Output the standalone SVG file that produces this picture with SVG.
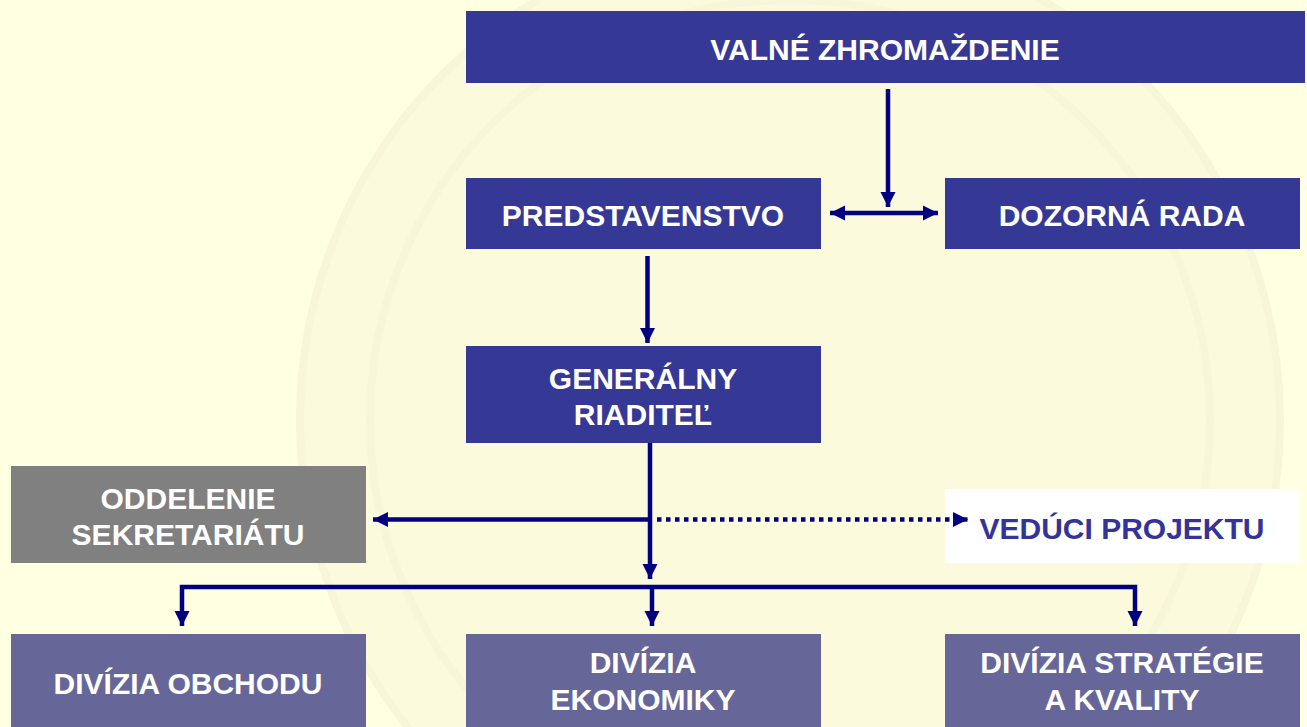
<svg xmlns="http://www.w3.org/2000/svg" width="1307" height="727" viewBox="0 0 1307 727">
<style>
.dk{fill:#363896}
.gr{fill:#808080}
.dv{fill:#666699}
.wh{fill:#ffffff}
text{font-family:"Liberation Sans",Arial,sans-serif;font-weight:bold;font-size:30px;text-anchor:middle;fill:#ffffff}
.bl{fill:#333399}
.ln{stroke:#000080;stroke-width:4.5;fill:none}
.dot{stroke:#000080;stroke-width:4.5;fill:none;stroke-dasharray:4.5 4.5}
</style>
<defs>
<marker id="ah" viewBox="0 0 10 10" refX="10" refY="5" markerWidth="3.4" markerHeight="3.4" orient="auto-start-reverse" markerUnits="strokeWidth">
<path d="M0,0 L10,5 L0,10 z" fill="#000080"/>
</marker>
</defs>
<rect x="0" y="0" width="1307" height="727" fill="#FFFFE2"/>
<g id="watermark" fill="none" stroke="#F8F6D9" stroke-width="8">
<circle cx="790" cy="420" r="490" fill="#FBFADD"/>
<circle cx="790" cy="420" r="420"/>
</g>
<g id="valne"><rect class="dk" x="466" y="11" width="839" height="72"/><text x="885" y="60">VALNÉ ZHROMAŽDENIE</text></g>
<g id="predstavenstvo"><rect class="dk" x="466" y="178" width="355" height="71"/><text x="643" y="226">PREDSTAVENSTVO</text></g>
<g id="dozorna"><rect class="dk" x="945" y="178" width="355" height="71"/><text x="1122" y="226">DOZORNÁ RADA</text></g>
<g id="generalny"><rect class="dk" x="466" y="346" width="355" height="97"/><text x="643" y="389">GENERÁLNY</text><text x="643" y="425">RIADITEĽ</text></g>
<g id="oddelenie"><rect class="gr" x="11" y="466" width="355" height="97"/><text x="188" y="509">ODDELENIE</text><text x="188" y="545">SEKRETARIÁTU</text></g>
<g id="veduci"><rect class="wh" x="945" y="489" width="355" height="74"/><text class="bl" x="1122" y="539">VEDÚCI PROJEKTU</text></g>
<g id="obchod"><rect class="dv" x="11" y="634" width="355" height="93"/><text x="188" y="694">DIVÍZIA OBCHODU</text></g>
<g id="ekonomika"><rect class="dv" x="466" y="634" width="355" height="93"/><text x="643" y="673">DIVÍZIA</text><text x="643" y="710">EKONOMIKY</text></g>
<g id="strategia"><rect class="dv" x="945" y="634" width="355" height="93"/><text x="1122" y="673">DIVÍZIA STRATÉGIE</text><text x="1122" y="710">A KVALITY</text></g>
<g id="connectors">
<path class="ln" d="M888,89 V207" marker-end="url(#ah)"/>
<path class="ln" d="M830,213 H938" marker-start="url(#ah)" marker-end="url(#ah)"/>
<path class="ln" d="M647.5,256 V343" marker-end="url(#ah)"/>
<path class="ln" d="M650,443 V579" marker-end="url(#ah)"/>
<path class="ln" d="M650,519.5 H373" marker-end="url(#ah)"/>
<path class="dot" d="M657,519.5 H968" marker-end="url(#ah)"/>
<path class="ln" d="M182,626 V587 H1135 V626" marker-start="url(#ah)" marker-end="url(#ah)"/>
<path class="ln" d="M652,587 V626" marker-end="url(#ah)"/>
</g>
</svg>
